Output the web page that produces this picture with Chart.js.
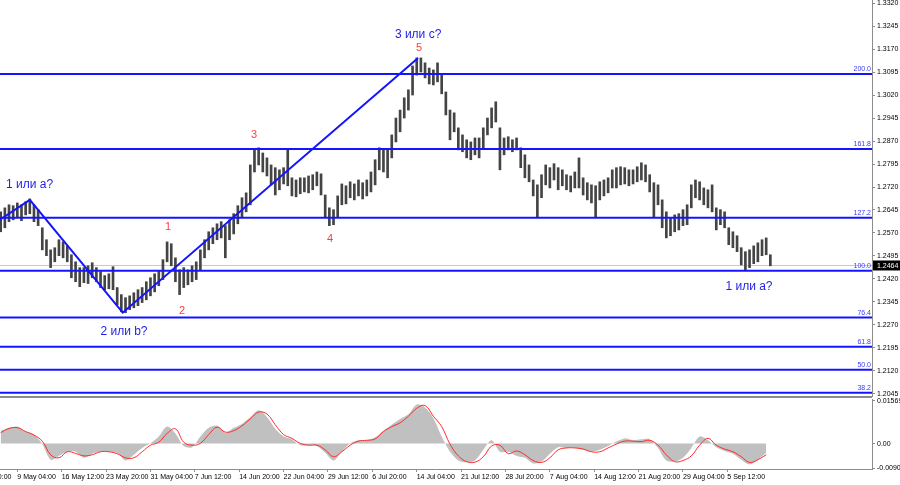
<!DOCTYPE html>
<html lang="ru">
<head>
  <meta charset="UTF-8" />
  <title>GBP/USD H4 - wave count</title>
  <script src="https://cdn.jsdelivr.net/npm/chart.js"></script>
  <style>
    html, body { margin: 0; padding: 0; background: #fff; }
    #wrap { position: relative; width: 900px; height: 485px; overflow: hidden; }
    #priceChart { position: absolute; left: 0; top: 0; }
    #oscChart { position: absolute; left: 0; top: 397px; }
  </style>
</head>
<body>
  <div id="wrap">
    <canvas id="priceChart" width="900" height="397"></canvas>
    <canvas id="oscChart" width="900" height="88"></canvas>
  </div>

  <script>
    // price: one entry per 3 four-hour bars (high / low)
    const barStep = 3;
    const highs = [
      1.2639, 1.2652, 1.2662, 1.2659, 1.2668, 1.2662, 1.2672, 1.2681, 1.2662, 1.2646,
      1.2587, 1.2548, 1.2515, 1.2522, 1.2548, 1.2541, 1.2528, 1.2499, 1.2476, 1.2457,
      1.2457, 1.2463, 1.2473, 1.2457, 1.2444, 1.2431, 1.2437, 1.2460, 1.2392, 1.2369,
      1.2359, 1.2365, 1.2375, 1.2385, 1.2392, 1.2411, 1.2424, 1.2437, 1.2447, 1.2483,
      1.2541, 1.2535, 1.2489, 1.2450, 1.2457, 1.2450, 1.2463, 1.2476, 1.2515, 1.2548,
      1.2574, 1.2587, 1.2600, 1.2607, 1.2594, 1.2613, 1.2633, 1.2659, 1.2685, 1.2701,
      1.2792, 1.2841, 1.2848, 1.2831, 1.2815, 1.2792, 1.2783, 1.2776, 1.2783, 1.2841,
      1.2750, 1.2743, 1.2750, 1.2750, 1.2756, 1.2760, 1.2769, 1.2763, 1.2694, 1.2652,
      1.2646, 1.2691, 1.2730, 1.2724, 1.2737, 1.2730, 1.2743, 1.2734, 1.2743, 1.2769,
      1.2809, 1.2848, 1.2841, 1.2841, 1.2890, 1.2945, 1.2971, 1.3011, 1.3037, 1.3115,
      1.3141, 1.3141, 1.3125, 1.3108, 1.3102, 1.3125, 1.3085, 1.3030, 1.2971, 1.2962,
      1.2913, 1.2890, 1.2874, 1.2867, 1.2880, 1.2880, 1.2913, 1.2945, 1.2978, 1.2998,
      1.2913, 1.2880, 1.2884, 1.2874, 1.2880, 1.2848, 1.2825, 1.2792, 1.2743, 1.2727,
      1.2760, 1.2792, 1.2783, 1.2796, 1.2783, 1.2776, 1.2760, 1.2756, 1.2769, 1.2815,
      1.2750, 1.2734, 1.2727, 1.2724, 1.2737, 1.2743, 1.2750, 1.2776, 1.2783, 1.2786,
      1.2783, 1.2776, 1.2776, 1.2786, 1.2799, 1.2792, 1.2760, 1.2734, 1.2727, 1.2678,
      1.2639, 1.2620, 1.2629, 1.2633, 1.2646, 1.2662, 1.2727, 1.2743, 1.2737, 1.2717,
      1.2711, 1.2727, 1.2652, 1.2646, 1.2639, 1.2587, 1.2574, 1.2561, 1.2522, 1.2509,
      1.2515, 1.2528, 1.2538, 1.2548, 1.2554, 1.2499
    ];
    const lows = [
      1.2574, 1.2587, 1.2607, 1.2613, 1.2620, 1.2610, 1.2629, 1.2633, 1.2607, 1.2594,
      1.2515, 1.2496, 1.2457, 1.2476, 1.2496, 1.2489, 1.2476, 1.2424, 1.2411, 1.2395,
      1.2408, 1.2405, 1.2424, 1.2411, 1.2392, 1.2385, 1.2388, 1.2385, 1.2336, 1.2313,
      1.2310, 1.2320, 1.2326, 1.2333, 1.2343, 1.2352, 1.2365, 1.2378, 1.2398, 1.2418,
      1.2476, 1.2463, 1.2411, 1.2369, 1.2392, 1.2401, 1.2411, 1.2418, 1.2450, 1.2489,
      1.2515, 1.2535, 1.2548, 1.2554, 1.2489, 1.2548, 1.2567, 1.2600, 1.2620, 1.2639,
      1.2662, 1.2769, 1.2792, 1.2769, 1.2756, 1.2727, 1.2694, 1.2711, 1.2730, 1.2724,
      1.2691, 1.2688, 1.2698, 1.2704, 1.2701, 1.2711, 1.2724, 1.2694, 1.2620, 1.2594,
      1.2597, 1.2620, 1.2662, 1.2665, 1.2685, 1.2678, 1.2691, 1.2681, 1.2691, 1.2704,
      1.2727, 1.2776, 1.2769, 1.2750, 1.2815, 1.2867, 1.2900, 1.2945, 1.2971, 1.3020,
      1.3085, 1.3095, 1.3076, 1.3056, 1.3053, 1.3063, 1.3024, 1.2955, 1.2874, 1.2900,
      1.2841, 1.2835, 1.2815, 1.2809, 1.2825, 1.2815, 1.2848, 1.2890, 1.2913, 1.2932,
      1.2776, 1.2825, 1.2841, 1.2835, 1.2841, 1.2783, 1.2750, 1.2737, 1.2691, 1.2623,
      1.2685, 1.2727, 1.2717, 1.2743, 1.2711, 1.2724, 1.2711, 1.2704, 1.2717, 1.2717,
      1.2694, 1.2678, 1.2668, 1.2620, 1.2678, 1.2691, 1.2701, 1.2717, 1.2717, 1.2727,
      1.2730, 1.2724, 1.2730, 1.2737, 1.2743, 1.2737, 1.2704, 1.2620, 1.2662, 1.2587,
      1.2554, 1.2561, 1.2574, 1.2580, 1.2594, 1.2597, 1.2652, 1.2685, 1.2678, 1.2662,
      1.2652, 1.2639, 1.2580, 1.2597, 1.2587, 1.2532, 1.2522, 1.2509, 1.2466, 1.2450,
      1.2457, 1.2470, 1.2476, 1.2496, 1.2499, 1.2463
    ];
    const lastPrice = 1.2464;

    // MACD window: one entry per 6 bars
    const oscStep = 6;
    const macdHist = [
      0.0047, 0.0058, 0.0062, 0.0044, 0.0033, -0.0002, -0.0059, -0.0045, -0.0030, -0.0030,
      -0.0052, -0.0037, -0.0030, -0.0030, -0.0034, -0.0062, -0.0041, -0.0016, 0.0001, 0.0026,
      0.0062, 0.0037, -0.0009, -0.0013, 0.0026, 0.0058, 0.0065, 0.0040, 0.0058, 0.0072,
      0.0097, 0.0122, 0.0097, 0.0054, 0.0026, 0.0016, -0.0006, -0.0006, -0.0009, -0.0034,
      -0.0062, -0.0030, 0.0001, 0.0012, 0.0012, 0.0023, 0.0047, 0.0069, 0.0090, 0.0107,
      0.0143, 0.0132, 0.0093, 0.0026, -0.0030, -0.0062, -0.0069, -0.0062, -0.0023, 0.0012,
      -0.0030, -0.0030, -0.0045, -0.0052, -0.0073, -0.0066, -0.0037, -0.0013, -0.0016, -0.0016,
      -0.0023, -0.0030, -0.0023, -0.0009, 0.0008, 0.0019, 0.0012, 0.0016, 0.0016, -0.0016,
      -0.0062, -0.0066, -0.0052, -0.0016, 0.0026, 0.0012, -0.0013, -0.0027, -0.0037, -0.0059,
      -0.0076, -0.0059, -0.0034
    ];
    const macdSignal = [
      0.0040, 0.0055, 0.0058, 0.0044, 0.0031, 0.0009, -0.0041, -0.0052, -0.0030, -0.0036,
      -0.0045, -0.0041, -0.0030, -0.0030, -0.0037, -0.0052, -0.0052, -0.0030, -0.0006, 0.0005,
      0.0037, 0.0054, 0.0005, -0.0006, 0.0001, 0.0033, 0.0060, 0.0042, 0.0047, 0.0065,
      0.0090, 0.0115, 0.0108, 0.0069, 0.0033, 0.0019, 0.0001, -0.0006, -0.0006, -0.0023,
      -0.0048, -0.0030, -0.0006, 0.0009, 0.0012, 0.0017, 0.0044, 0.0062, 0.0076, 0.0100,
      0.0129, 0.0139, 0.0100, 0.0062, -0.0002, -0.0045, -0.0066, -0.0068, -0.0048, -0.0009,
      -0.0006, -0.0037, -0.0027, -0.0041, -0.0062, -0.0069, -0.0052, -0.0023, -0.0016, -0.0016,
      -0.0020, -0.0030, -0.0030, -0.0016, -0.0002, 0.0009, 0.0009, 0.0007, 0.0012, -0.0006,
      -0.0041, -0.0066, -0.0062, -0.0045, -0.0006, 0.0019, -0.0006, -0.0020, -0.0030, -0.0048,
      -0.0069, -0.0059, -0.0041
    ];

    // fibonacci levels
    const fibLevels = ["38.2", "50.0", "61.8", "76.4", "100.0", "127.2", "161.8", "200.0"];
    const fibPrices = [1.2049, 1.2124, 1.2199, 1.2294, 1.2447, 1.2620, 1.2844, 1.3089];

    // wave count line (bar index, price)
    const waveBars = [-15, 21, 88, 301];
    const wavePrices = [1.2570, 1.2678, 1.2310, 1.3141];

    // labels on the chart
    const noteTexts = ["1 или a?", "2 или b?", "3 или c?", "1 или a?"];
    const noteBars = [20.8, 88.9, 301, 539.6];
    const notePrices = [1.2727, 1.2248, 1.3216, 1.2395];
    const numTexts = ["1", "2", "3", "4", "5"];
    const numBars = [120.6, 130.7, 182.7, 237.5, 301.7];
    const numPrices = [1.2590, 1.2317, 1.2890, 1.2551, 1.3173];

    // axes
    const priceTicks = [1.2045, 1.2120, 1.2195, 1.2270, 1.2345, 1.2420, 1.2495, 1.2570, 1.2645,
      1.2720, 1.2795, 1.2870, 1.2945, 1.3020, 1.3095, 1.3170, 1.3245, 1.3320];
    const dateLabels = ["1 May 20:00", "9 May 04:00", "16 May 12:00", "23 May 20:00", "31 May 04:00",
      "7 Jun 12:00", "14 Jun 20:00", "22 Jun 04:00", "29 Jun 12:00", "6 Jul 20:00", "14 Jul 04:00",
      "21 Jul 12:00", "28 Jul 20:00", "7 Aug 04:00", "14 Aug 12:00", "21 Aug 20:00", "29 Aug 04:00",
      "5 Sep 12:00"];
    const dateBars = [-20, 12, 44, 76, 108, 140, 172, 204, 236, 268, 300, 332, 364, 396, 428, 460, 492, 524];
    const oscTicks = [-0.00906, 0, 0.01569];
    const oscTickLabels = ["-0.00906", "0.00", "0.01569"];

    const BLUE = "#1414ff";
    const AXIS = "#8c8c8c";
    const FONT = '"Liberation Sans", Arial, sans-serif';
    const xMin = -0.5, xMax = 628.3;

    Chart.defaults.font.family = FONT;
    Chart.defaults.font.size = 7;
    Chart.defaults.color = "#000";

    // keep both panels on the same pixel grid: no auto padding from labels
    function noPad(scale) {
      scale.paddingLeft = 0;
      scale.paddingRight = 0;
      scale.paddingTop = 0;
      scale.paddingBottom = 0;
    }
    function axisWidth(scale) {
      scale.width = 28;
      noPad(scale);
    }

    const notesPlugin = {
      id: "notes",
      afterDatasetsDraw(chart) {
        const { ctx, chartArea: a, scales: { x, y } } = chart;
        ctx.save();
        ctx.strokeStyle = AXIS;
        ctx.lineWidth = 1;
        ctx.beginPath();
        ctx.moveTo(0, a.bottom - 0.5);
        ctx.lineTo(a.right, a.bottom - 0.5);
        ctx.stroke();

        ctx.font = "7px " + FONT;
        ctx.fillStyle = "#3a3aff";
        ctx.textAlign = "right";
        ctx.textBaseline = "bottom";
        fibLevels.forEach((t, i) => ctx.fillText(t, a.right - 1, y.getPixelForValue(fibPrices[i]) - 1));

        ctx.textAlign = "center";
        ctx.textBaseline = "middle";
        ctx.font = "12px " + FONT;
        ctx.fillStyle = "#1e1ee6";
        noteTexts.forEach((t, i) => ctx.fillText(t, x.getPixelForValue(noteBars[i]), y.getPixelForValue(notePrices[i])));
        ctx.font = "11px " + FONT;
        ctx.fillStyle = "#ff3c3c";
        numTexts.forEach((t, i) => ctx.fillText(t, x.getPixelForValue(numBars[i]), y.getPixelForValue(numPrices[i])));

        // current price marker
        const py = y.getPixelForValue(lastPrice);
        ctx.fillStyle = "#000";
        ctx.fillRect(a.right + 1, py - 5, chart.width - a.right - 1, 10);
        ctx.fillStyle = "#fff";
        ctx.font = "7px " + FONT;
        ctx.textAlign = "left";
        ctx.fillText(lastPrice.toFixed(4), a.right + 5, py + 0.5);
        ctx.restore();
      }
    };

    const oscFrame = {
      id: "oscFrame",
      afterDatasetsDraw(chart) {
        const { ctx, chartArea: a } = chart;
        ctx.save();
        ctx.strokeStyle = AXIS;
        ctx.lineWidth = 1;
        ctx.beginPath();
        ctx.moveTo(0, 0.5);
        ctx.lineTo(a.right, 0.5);
        ctx.stroke();
        ctx.restore();
      }
    };

    const hline = (p, color, width, order) => ({
      type: "line",
      data: [{ x: xMin, y: p }, { x: xMax, y: p }],
      borderColor: color,
      borderWidth: width,
      pointRadius: 0,
      order: order
    });

    new Chart(document.getElementById("priceChart"), {
      type: "bar",
      data: {
        datasets: [
          {
            type: "line",
            data: waveBars.map((b, i) => ({ x: b, y: wavePrices[i] })),
            borderColor: BLUE,
            borderWidth: 2,
            pointRadius: 0,
            order: 0
          },
          ...fibPrices.map(p => hline(p, BLUE, 2, 1)),
          hline(lastPrice, "#c8c8c8", 1, 6),
          {
            type: "bar",
            data: highs.map((h, i) => ({ x: i * barStep, y: [lows[i], h] })),
            backgroundColor: "#444444",
            borderWidth: 0,
            barThickness: 2,
            order: 3
          }
        ]
      },
      options: {
        responsive: false,
        animation: false,
        devicePixelRatio: 1,
        layout: { padding: 0, autoPadding: false },
        plugins: { legend: { display: false }, tooltip: { enabled: false } },
        scales: {
          x: { type: "linear", min: xMin, max: xMax, display: false, offset: false, afterFit: noPad },
          y: {
            position: "right",
            min: 1.2035,
            max: 1.3330,
            afterFit: axisWidth,
            afterBuildTicks: ax => { ax.ticks = priceTicks.map(v => ({ value: v })); },
            ticks: { callback: v => v.toFixed(4), padding: 2 },
            grid: { drawOnChartArea: false, tickLength: 3, color: AXIS },
            border: { color: AXIS, width: 1 }
          }
        }
      },
      plugins: [notesPlugin]
    });

    new Chart(document.getElementById("oscChart"), {
      type: "line",
      data: {
        datasets: [
          {
            data: macdSignal.map((v, i) => ({ x: i * oscStep, y: v })),
            borderColor: "#ff2a2a",
            borderWidth: 1,
            pointRadius: 0,
            tension: 0.4,
            fill: false
          },
          {
            data: macdHist.map((v, i) => ({ x: i * oscStep, y: v })),
            borderWidth: 0,
            backgroundColor: "#c0c0c0",
            fill: "origin",
            pointRadius: 0,
            tension: 0.3
          }
        ]
      },
      options: {
        responsive: false,
        animation: false,
        devicePixelRatio: 1,
        layout: { padding: { top: 2, left: 0, right: 0, bottom: 0 }, autoPadding: false },
        plugins: { legend: { display: false }, tooltip: { enabled: false } },
        scales: {
          x: {
            type: "linear",
            min: xMin,
            max: xMax,
            offset: false,
            afterFit: s => { s.height = 16; noPad(s); },
            afterBuildTicks: ax => { ax.ticks = dateBars.map(v => ({ value: v })); },
            ticks: { align: "start", autoSkip: false, maxRotation: 0, padding: 1, callback: (v, i) => dateLabels[i] },
            grid: { drawOnChartArea: false, tickLength: 3, color: AXIS },
            border: { color: AXIS, width: 1 }
          },
          y: {
            position: "right",
            min: -0.0093,
            max: 0.0163,
            afterFit: axisWidth,
            afterBuildTicks: ax => { ax.ticks = oscTicks.map(v => ({ value: v })); },
            ticks: { callback: (v, i) => oscTickLabels[i], padding: 2 },
            grid: { drawOnChartArea: false, tickLength: 3, color: AXIS },
            border: { color: AXIS, width: 1 }
          }
        }
      },
      plugins: [oscFrame]
    });
  </script>
</body>
</html>
